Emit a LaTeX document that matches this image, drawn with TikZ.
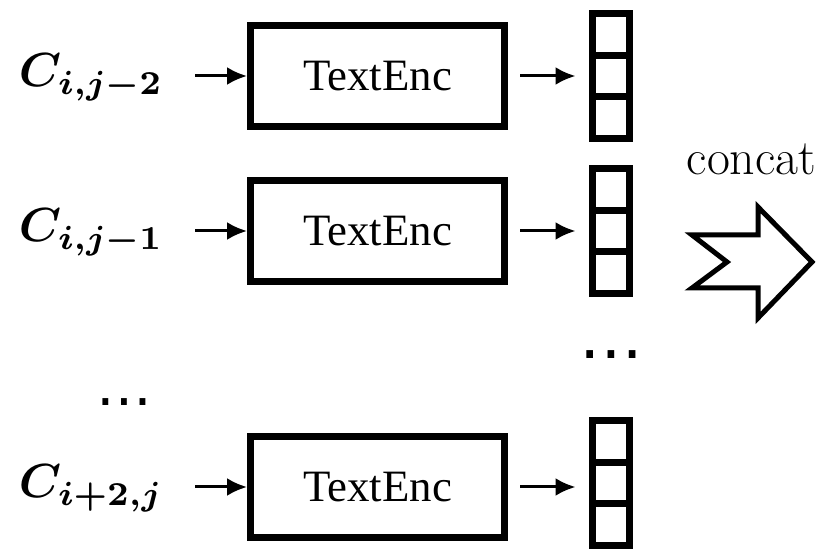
\documentclass[tikz,border=0pt]{standalone}
\usepackage{amsmath}
\usepackage{fontspec}
\newfontfamily\encfont{Liberation Serif}
\newfontfamily\dotfont{DejaVu Sans}
\usepackage{tikz}
\usetikzlibrary{arrows.meta}

\tikzset{
  encbox/.style={draw,line width=7bp,minimum width=254bp,minimum height=101bp,inner sep=0pt,font=\encfont\fontsize{45}{50}\selectfont},
  cell/.style={draw,line width=7bp,minimum width=37bp,minimum height=41.7bp,inner sep=0pt},
  ctx/.style={inner sep=0pt,anchor=base west,scale=4.8,font=\boldmath},
  gap/.style={inner sep=0pt,anchor=base,font=\dotfont\fontsize{#1}{#1}\selectfont},
  feed/.style={black,line width=3bp,->},
}

\begin{document}
\begin{tikzpicture}[>={Latex[length=20bp,width=18bp]},line join=miter]
%%
\useasboundingbox (0bp,0bp) rectangle (828bp,550bp);
\node (c1) at (18bp,463bp) [ctx] {$C_{i,j-2}$};
  \node (c2) at (18bp,308bp) [ctx] {$C_{i,j-1}$};
  \node (c3) at (18bp,52bp) [ctx] {$C_{i+2,j}$};
  \node (enc1) at (377.5bp,474bp) [encbox] {TextEnc};
  \node (enc2) at (377.5bp,319bp) [encbox] {TextEnc};
  \node (enc3) at (377.5bp,63bp) [encbox] {TextEnc};
  \node (vec1a) at (610.5bp,515.7bp) [cell] {};
  \node (vec1b) at (610.5bp,474bp) [cell] {};
  \node (vec1c) at (610.5bp,432.3bp) [cell] {};
  \node (vec2a) at (610.5bp,360.7bp) [cell] {};
  \node (vec2b) at (610.5bp,319bp) [cell] {};
  \node (vec2c) at (610.5bp,277.3bp) [cell] {};
  \node (vec3a) at (610.5bp,108.7bp) [cell] {};
  \node (vec3b) at (610.5bp,67bp) [cell] {};
  \node (vec3c) at (610.5bp,25.3bp) [cell] {};
  \node (dotsl) at (124bp,144bp) [gap=56] {…};
  \node (dotsr) at (611bp,191bp) [gap=64] {…};
  \node (cat) at (751.5bp,375bp) [anchor=base,font=\fontsize{50}{54}\selectfont] {concat};
  \coordinate (in1) at (195bp,474bp);
  \coordinate (in2) at (195bp,319bp);
  \coordinate (in3) at (195bp,63bp);
  \draw [feed] (in1) -- (enc1);
  \draw [feed] (in2) -- (enc2);
  \draw [feed] (in3) -- (enc3);
  \draw [feed,shorten <=12bp,shorten >=13bp] (enc1.east) -- (enc1.east -| vec1b.west);
  \draw [feed,shorten <=12bp,shorten >=13bp] (enc2.east) -- (enc2.east -| vec2b.west);
  \draw [feed,shorten <=12bp,shorten >=13bp] (enc3.east) -- (enc3.east -| vec3b.west);
  \draw [black,line width=5bp] (692bp,315bp) -- (758bp,315bp) -- (758bp,343bp) -- (812bp,288bp) -- (758bp,232bp) -- (758bp,262bp) -- (692bp,262bp) -- (727bp,288bp) -- cycle;
%
\end{tikzpicture}
\end{document}
